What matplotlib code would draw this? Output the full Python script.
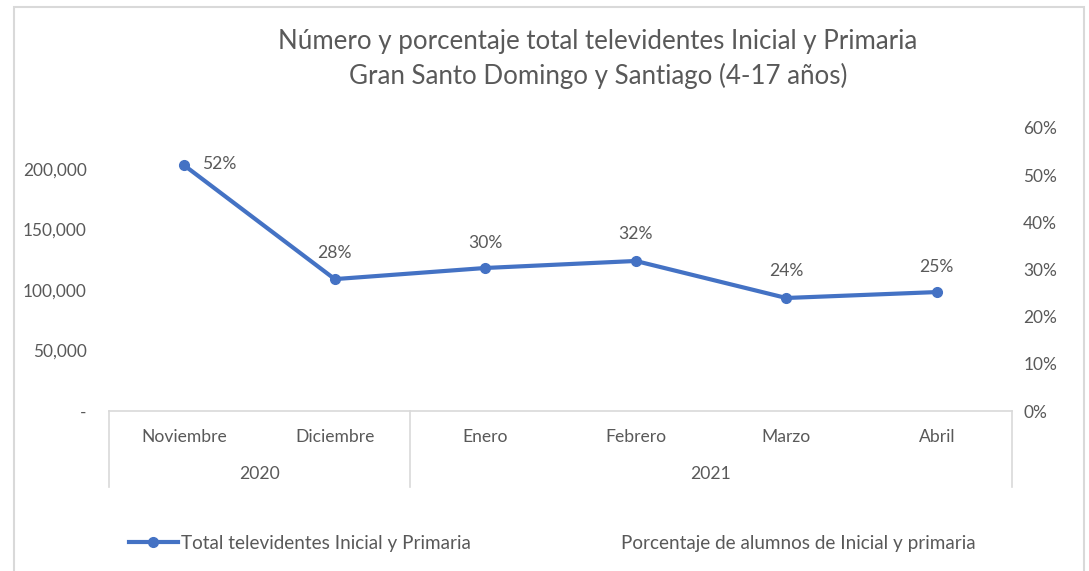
import matplotlib.pyplot as plt
from matplotlib.lines import Line2D
from matplotlib.ticker import FuncFormatter

plt.rcParams['font.family'] = ['Lato', 'DejaVu Sans']

meses = ['Noviembre', 'Diciembre', 'Enero', 'Febrero', 'Marzo', 'Abril']
anios = ['2020', '2021']
meses_por_anio = [2, 4]
televidentes = [203000, 109000, 118200, 124000, 93400, 98300]
porcentaje = [0.52, 0.28, 0.30, 0.32, 0.24, 0.25]

gris = '#595959'
linea = '#d9d9d9'
azul = '#4472C4'
fs = 12.6

fig = plt.figure(figsize=(10.89, 5.71), dpi=100)
ax = fig.add_axes([109/1089, 1 - 411/571, (1012-109)/1089, (411-128)/571])
ax2 = ax.twinx()

x = list(range(len(meses)))
ax.plot(x, televidentes, color=azul, lw=3, marker='o', ms=7, solid_capstyle='round')
ax2.plot(x, porcentaje, lw=0)

ax.set_xlim(-0.5, len(meses) - 0.5)
ax.set_ylim(0, 233900)
ax2.set_ylim(0, 0.6)
ax.set_yticks([0, 50000, 100000, 150000, 200000])
ax.yaxis.set_major_formatter(FuncFormatter(lambda v, p: '-' if v == 0 else f'{v:,.0f}'))
ax2.set_yticks([0, 0.1, 0.2, 0.3, 0.4, 0.5, 0.6])
ax2.yaxis.set_major_formatter(FuncFormatter(lambda v, p: f'{v*100:.0f}%'))

for a in (ax, ax2):
    for s in a.spines.values():
        s.set_visible(False)
    a.tick_params(length=0, colors=gris, labelsize=12.4)
ax.tick_params(axis='y', pad=16)
ax2.tick_params(axis='y', pad=8)
ax.set_xticks([])

# etiquetas de porcentaje
for i, p in enumerate(porcentaje):
    if i == 0:
        ax2.annotate(f'{p:.0%}', (i, p), xytext=(13, 1), textcoords='offset points',
                     ha='left', va='center', color=gris, fontsize=fs)
    else:
        ax2.annotate(f'{p:.0%}', (i, p), xytext=(0, 19), textcoords='offset points',
                     ha='center', va='center', color=gris, fontsize=fs)

# eje de categorias en dos niveles
tr = ax.get_xaxis_transform()
ax.plot([-0.5, len(meses) - 0.5], [0, 0], color=linea, lw=1.2, transform=tr, clip_on=False)
bordes = [-0.5]
for n in meses_por_anio:
    bordes.append(bordes[-1] + n)
for b in bordes:
    ax.plot([b, b], [0, -76/283], color=linea, lw=1.2, transform=tr, clip_on=False)
for i, m in enumerate(meses):
    ax.text(i, -26/283, m, transform=tr, ha='center', va='center', color=gris, fontsize=fs)
for j, a in enumerate(anios):
    ax.text((bordes[j] + bordes[j+1]) / 2, -63/283, a, transform=tr,
            ha='center', va='center', color=gris, fontsize=fs)

fig.text(598/1089, 1 - 41/571, 'Número y porcentaje total televidentes Inicial y Primaria',
         ha='center', va='center', color=gris, fontsize=18.6)
fig.text(598/1089, 1 - 76/571, 'Gran Santo Domingo y Santiago (4-17 años)',
         ha='center', va='center', color=gris, fontsize=18.6)

handles = [Line2D([], [], color=azul, lw=3, marker='o', ms=7),
           Line2D([], [], lw=0)]
fig.legend(handles, ['Total televidentes Inicial y Primaria', 'Porcentaje de alumnos de Inicial y primaria'],
           loc='center', bbox_to_anchor=(552/1089, 1 - 543/571), ncol=2, frameon=False,
           fontsize=13.6, labelcolor=gris, handlelength=2.6, handletextpad=0.15, columnspacing=5.2)

fig.add_artist(plt.Rectangle((14/1089, -0.05), (1084-14)/1089, 1 - 7/571 + 0.05,
                             transform=fig.transFigure, fill=False, ec=linea, lw=1.5))

fig.savefig('out.png', dpi=100)
